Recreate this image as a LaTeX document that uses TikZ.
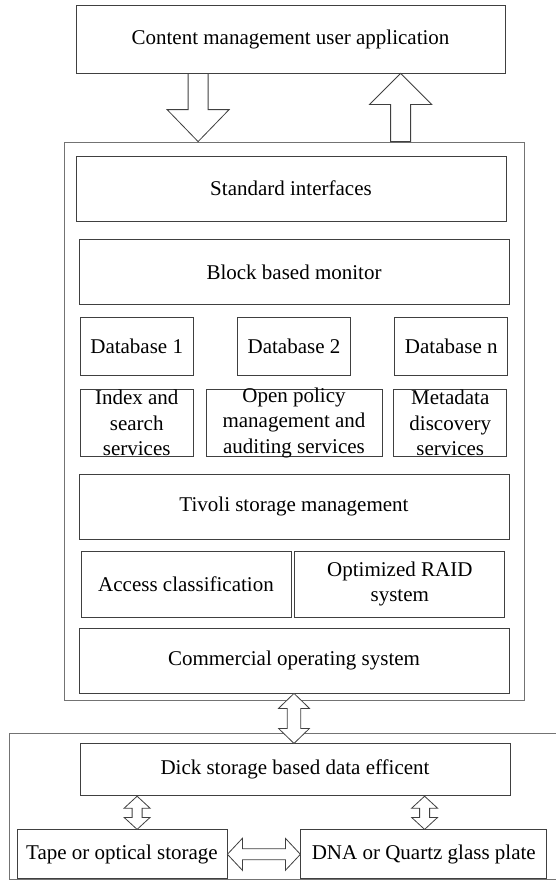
\documentclass[tikz,border=0pt]{standalone}
\usepackage{fontspec}
\setmainfont{Liberation Serif}
\usetikzlibrary{positioning, calc}

% hollow block arrow: tail, tip, shaft half width, head half width, head length
\newcommand{\blockarrow}[5]{%
  \coordinate (hb) at ($(#2)!#5!(#1)$);
  \draw[blk] ($(#1)!#3!90:(#2)$) -- ($(hb)!#3!90:(#2)$) -- ($(hb)!#4!90:(#2)$) -- (#2)
    -- ($(hb)!#4!-90:(#2)$) -- ($(hb)!#3!-90:(#2)$) -- ($(#1)!#3!-90:(#2)$) -- cycle;}
% hollow block arrow with a head at both ends
\newcommand{\dblarrow}[5]{%
  \coordinate (ha) at ($(#1)!#5!(#2)$);
  \coordinate (hb) at ($(#2)!#5!(#1)$);
  \draw[blk] (#1) -- ($(ha)!#4!90:(#2)$) -- ($(ha)!#3!90:(#2)$) -- ($(hb)!#3!90:(#2)$)
    -- ($(hb)!#4!90:(#2)$) -- (#2) -- ($(hb)!#4!-90:(#2)$) -- ($(hb)!#3!-90:(#2)$)
    -- ($(ha)!#3!-90:(#2)$) -- ($(ha)!#4!-90:(#2)$) -- cycle;}

\begin{document}
\begin{tikzpicture}[x=1pt, y=-1pt, node distance=12pt]
    \tikzstyle{txt} = [font=\fontsize{21}{25.5}\selectfont, align=center]
    \tikzstyle{box} = [rectangle, draw=black!75, line width=0.8pt, txt, inner sep=2pt]
    \tikzstyle{wide} = [box, minimum width=430pt, minimum height=65pt]
    \tikzstyle{db} = [box, minimum width=113pt, minimum height=58pt]
    \tikzstyle{svc} = [box, minimum height=67pt]
    \tikzstyle{half} = [box, minimum width=210pt, minimum height=66pt]
    \tikzstyle{frame} = [rectangle, draw=black!55, line width=0.8pt]
    \tikzstyle{blk} = [draw=black!75, line width=0.8pt, fill=white, line join=miter]

    \useasboundingbox (0,0) rectangle (556,887);

    % User application on top
    \node[box, minimum width=429pt, minimum height=68pt] (app) at (290.5,39) {Content management user application};

    % Management stack
    \node[frame, minimum width=460pt, minimum height=558pt] (core) at (294,421) {};
    \node[wide] (std) [below=14pt of core.north, xshift=-3pt] {Standard interfaces};
    \node[wide] (mon) [below=18pt of std, xshift=3pt] {Block based monitor};

    \node[db] (db2) [below=of mon] {Database 2};
    \node[db] (db1) [left=43.5pt of db2] {Database 1};
    \node[db] (dbn) [right=43.5pt of db2] {Database n};

    \node[svc, minimum width=176pt, label={[txt]center:Open policy\\management and\\auditing services}] (opm) [below=13pt of db2] {};
    \node[svc, minimum width=113pt, label={[txt]center:Index and\\search\\services}] (idx) [left=of opm] {};
    \node[svc, minimum width=113pt, label={[txt]center:Metadata\\discovery\\services}] (meta) [right=11pt of opm] {};

    \node[wide] (tiv) [below=17pt of opm] {Tivoli storage management};
    \node[half] (acc) [below right=11pt and 2pt of tiv.south west] {Access classification};
    \node[half] (raid) [right=3pt of acc] {Optimized RAID\\system};
    \node[wide] (cos) [below=88pt of tiv] {Commercial operating system};

    % Storage media
    \node[frame, minimum width=570pt, minimum height=146pt] (store) [below=33pt of core] {};
    \node[wide, minimum height=52pt] (disk) [below=10pt of store.north, xshift=1pt] {Dick storage based data efficent};
    \node[half, minimum height=49pt] (tape) [below right=96pt and 8pt of store.north west] {Tape or optical storage};
    \node[half, minimum width=246pt, minimum height=49pt] (dna) [right=73pt of tape] {DNA or Quartz glass plate};

    % Arrows
    \coordinate (inA) at ($(app.south west)+(122.5,0)$);
    \coordinate (inB) at (inA |- core.north);
    \coordinate (outA) at ($(app.south west)+(325,0)$);
    \coordinate (outB) at (outA |- core.north);
    \blockarrow{inA}{inB}{10pt}{31pt}{32pt}
    \blockarrow{outB}{outA}{10pt}{31pt}{31pt}

    \coordinate (linkA) at (cos.south);
    \coordinate (linkB) at (linkA |- disk.north);
    \dblarrow{linkA}{linkB}{6.75pt}{15.5pt}{15pt}

    \coordinate (tA) at ($(disk.south west)+(57.5,0)$);
    \coordinate (tB) at (tA |- tape.north);
    \coordinate (dA) at ($(disk.south west)+(345,0)$);
    \coordinate (dB) at (dA |- dna.north);
    \dblarrow{tA}{tB}{5pt}{13pt}{12pt}
    \dblarrow{dA}{dB}{5pt}{13pt}{12pt}
    \dblarrow{tape.east}{dna.west}{5.5pt}{16pt}{15pt}
\end{tikzpicture}
\end{document}
